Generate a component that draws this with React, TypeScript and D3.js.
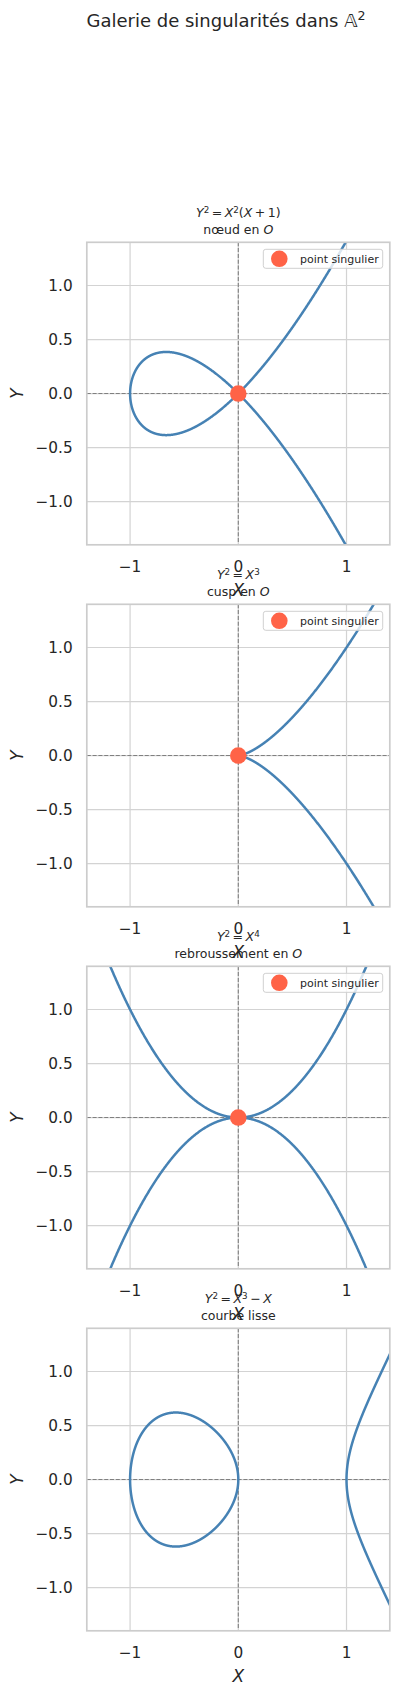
import React from 'react';
import * as d3 from 'd3';

// ---------- data ----------
const figureTitle = 'Galerie de singularités dans ';
const figureTitleSymbol = '\u{1D538}';
const equations = ['Y^2 = X^2(X + 1)', 'Y^2 = X^3', 'Y^2 = X^4', 'Y^2 = X^3 - X'];
const subtitleTexts = ['nœud en ', 'cusp en ', 'rebroussement en ', 'courbe lisse'];
const subtitlePoints = ['O', 'O', 'O', ''];
// each curve is Y^2 = P(X); coefficients of P from X^0 upward
const polyCoeffs: number[][] = [
  [0, 0, 1, 1],
  [0, 0, 0, 1],
  [0, 0, 0, 0, 1],
  [0, -1, 0, 1],
];
const singularPoints: ([number, number] | null)[] = [[0, 0], [0, 0], [0, 0], null];
const xDomain = [-1.4, 1.4];
const yDomain = [-1.4, 1.4];
const xTicks = [-1, 0, 1];
const yTicks = [-1, -0.5, 0, 0.5, 1];
const legendLabel = 'point singulier';
const xLabel = 'X';
const yLabel = 'Y';

// ---------- layout / style ----------
const W = 398;
const H = 1694;
const axLeft = 86.8;
const axW = 303;
const axH = 302.5;
const firstTop = 242.3;
const panelStep = 362;
const textColor = '#262626';
const font = "'DejaVu Sans', sans-serif";
const curveColor = '#4682b4';
const pointColor = '#ff6347';
const gridColor = '#d3d3d3';
const spineColor = '#cccccc';

const evalPoly = (c: number[], x: number) => c.reduce((s, a, k) => s + a * Math.pow(x, k), 0);

function curvePaths(coeffs: number[], lo: number, hi: number): { pts: [number, number][]; closed: boolean }[] {
  const P = (x: number) => evalPoly(coeffs, x);
  const ok = (x: number) => P(x) >= -1e-12;
  const bisect = (a: number, b: number) => {
    // a and b have different ok-status
    const okA = ok(a);
    for (let k = 0; k < 80; k++) {
      const m = (a + b) / 2;
      if (ok(m) === okA) a = m; else b = m;
    }
    return okA ? a : b;
  };
  const N = 2800;
  const grid = d3.range(N + 1).map((i) => lo + ((hi - lo) * i) / N);
  const intervals: { a: number; b: number; ra: boolean; rb: boolean }[] = [];
  let start: { x: number; root: boolean } | null = null;
  for (let i = 0; i <= N; i++) {
    const g = ok(grid[i]);
    if (g && start === null) {
      start = i === 0 ? { x: lo, root: Math.abs(P(lo)) < 1e-9 } : { x: bisect(grid[i - 1], grid[i]), root: true };
    } else if (!g && start !== null) {
      intervals.push({ a: start.x, ra: start.root, b: bisect(grid[i - 1], grid[i]), rb: true });
      start = null;
    }
  }
  if (start !== null) intervals.push({ a: start.x, ra: start.root, b: hi, rb: Math.abs(P(hi)) < 1e-9 });

  const out: { pts: [number, number][]; closed: boolean }[] = [];
  const M = 1200;
  for (const iv of intervals) {
    const xs = d3.range(M + 1).map((i) => {
      const t = i / M;
      return iv.a + (iv.b - iv.a) * t * t * (3 - 2 * t);
    });
    const upper: [number, number][] = xs.map((x) => [x, Math.sqrt(Math.max(0, P(x)))]);
    const lower: [number, number][] = xs.map((x) => [x, -Math.sqrt(Math.max(0, P(x)))]);
    if (iv.ra && iv.rb) {
      out.push({ pts: [...upper].reverse().concat(lower), closed: true });
    } else if (iv.ra) {
      out.push({ pts: [...upper].reverse().concat(lower), closed: false });
    } else if (iv.rb) {
      out.push({ pts: upper.concat([...lower].reverse()), closed: false });
    } else {
      out.push({ pts: upper, closed: false });
      out.push({ pts: lower, closed: false });
    }
  }
  return out;
}

function MathLine({ expr, x, y, fs }: { expr: string; x: number; y: number; fs: number }) {
  const parts: { t: string; italic?: boolean; sup?: boolean }[] = [];
  for (let i = 0; i < expr.length; i++) {
    const c = expr[i];
    if (c === '^') {
      parts.push({ t: expr[i + 1], sup: true });
      i++;
      continue;
    }
    if (c === ' ') continue;
    if (c === '=' || c === '+' || c === '-') {
      parts.push({ t: '\u2009' + (c === '-' ? '\u2212' : c) + '\u2009' });
      continue;
    }
    parts.push({ t: c, italic: /[A-Z]/.test(c) });
  }
  const raise = fs * 0.33;
  let raised = false;
  return (
    <text x={x} y={y} textAnchor="middle" fontSize={fs} fontFamily={font} fill={textColor}>
      {parts.map((p, k) => {
        let dy = 0;
        if (p.sup && !raised) { dy = -raise; raised = true; }
        else if (!p.sup && raised) { dy = raise; raised = false; }
        return (
          <tspan key={k} dy={dy || undefined} fontStyle={p.italic ? 'italic' : 'normal'} fontSize={p.sup ? fs * 0.7 : fs}>
            {p.t}
          </tspan>
        );
      })}
    </text>
  );
}

function Panel({ idx }: { idx: number }) {
  const top = firstTop + idx * panelStep;
  const x = d3.scaleLinear().domain(xDomain).range([axLeft, axLeft + axW]);
  const y = d3.scaleLinear().domain(yDomain).range([top + axH, top]);
  const line = d3.line<[number, number]>().x((d) => x(d[0])).y((d) => y(d[1]));
  const paths = curvePaths(polyCoeffs[idx], xDomain[0], xDomain[1]);
  const clipId = `clip-${idx}`;
  const right = axLeft + axW;
  const bottom = top + axH;
  const cx = (axLeft + right) / 2;
  const sp = singularPoints[idx];
  const fmtX = d3.format('d');
  const fmtY = d3.format('.1f');
  const legW = 119.4;
  const legH = 19;
  const legX = right - 7.1 - legW;
  const legY = top + 7;
  return (
    <g>
      <defs>
        <clipPath id={clipId}>
          <rect x={axLeft} y={top} width={axW} height={axH} />
        </clipPath>
      </defs>
      <rect x={axLeft} y={top} width={axW} height={axH} fill="#ffffff" />
      {/* grid */}
      {xTicks.map((t) => (
        <line key={'gx' + t} x1={x(t)} x2={x(t)} y1={top} y2={bottom} stroke={gridColor} strokeWidth={1.2} />
      ))}
      {yTicks.map((t) => (
        <line key={'gy' + t} x1={axLeft} x2={right} y1={y(t)} y2={y(t)} stroke={gridColor} strokeWidth={1.2} />
      ))}
      {/* zero lines */}
      <line x1={axLeft} x2={right} y1={y(0)} y2={y(0)} stroke="#808080" strokeWidth={1.1} strokeDasharray="4,1.8" />
      <line x1={x(0)} x2={x(0)} y1={top} y2={bottom} stroke="#808080" strokeWidth={1.1} strokeDasharray="4,1.8" />
      {/* curve */}
      <g clipPath={`url(#${clipId})`}>
        {paths.map((p, k) => (
          <path key={k} d={(line(p.pts) || '') + (p.closed ? 'Z' : '')} fill="none" stroke={curveColor} strokeWidth={2.5} strokeLinejoin="round" />
        ))}
      </g>
      {/* spines */}
      <rect x={axLeft} y={top} width={axW} height={axH} fill="none" stroke={spineColor} strokeWidth={1.7} />
      {sp && <circle cx={x(sp[0])} cy={y(sp[1])} r={8.3} fill={pointColor} />}
      {/* ticks */}
      {xTicks.map((t) => (
        <text key={'tx' + t} x={x(t)} y={bottom + 27.5} textAnchor="middle" fontSize={15.3} fontFamily={font} fill={textColor}>
          {fmtX(t)}
        </text>
      ))}
      {yTicks.map((t) => (
        <text key={'ty' + t} x={72.7} y={y(t) + 5.6} textAnchor="end" fontSize={15.3} fontFamily={font} fill={textColor}>
          {fmtY(t)}
        </text>
      ))}
      {/* axis labels */}
      <text x={cx} y={bottom + 51} textAnchor="middle" fontSize={17} fontStyle="italic" fontFamily={font} fill={textColor}>
        {xLabel}
      </text>
      <text
        transform={`translate(23.2,${(top + bottom) / 2}) rotate(-90)`}
        textAnchor="middle"
        fontSize={17}
        fontStyle="italic"
        fontFamily={font}
        fill={textColor}
      >
        {yLabel}
      </text>
      {/* titles */}
      <MathLine expr={equations[idx]} x={cx} y={top - 25.5} fs={12.5} />
      <text x={cx} y={top - 8} textAnchor="middle" fontSize={12.5} fontFamily={font} fill={textColor}>
        {subtitleTexts[idx]}
        {subtitlePoints[idx] && <tspan fontStyle="italic">{subtitlePoints[idx]}</tspan>}
      </text>
      {/* legend */}
      {sp && (
        <g>
          <rect x={legX} y={legY} width={legW} height={legH} rx={2.5} fill="#ffffff" fillOpacity={0.8} stroke="#d0d0d0" strokeWidth={1} />
          <circle cx={legX + 16} cy={legY + legH / 2} r={8.3} fill={pointColor} />
          <text x={legX + 36.7} y={legY + 13.4} fontSize={11} fontFamily={font} fill={textColor}>
            {legendLabel}
          </text>
        </g>
      )}
    </g>
  );
}

export default function App() {
  return (
    <svg
      width={W}
      height={H}
      viewBox={`0 0 ${W} ${H}`}
      style={{ position: 'absolute', left: 0, top: 0, background: '#ffffff' }}
    >
      <rect x={0} y={0} width={W} height={H} fill="#ffffff" />
      <text x={226} y={26.5} textAnchor="middle" fontSize={18} fontFamily={font} fill={textColor}>
        {figureTitle}
        <tspan>{figureTitleSymbol}</tspan>
        <tspan dy={-7} fontSize={12.6}>2</tspan>
      </text>
      {equations.map((_, i) => (
        <Panel key={i} idx={i} />
      ))}
    </svg>
  );
}
